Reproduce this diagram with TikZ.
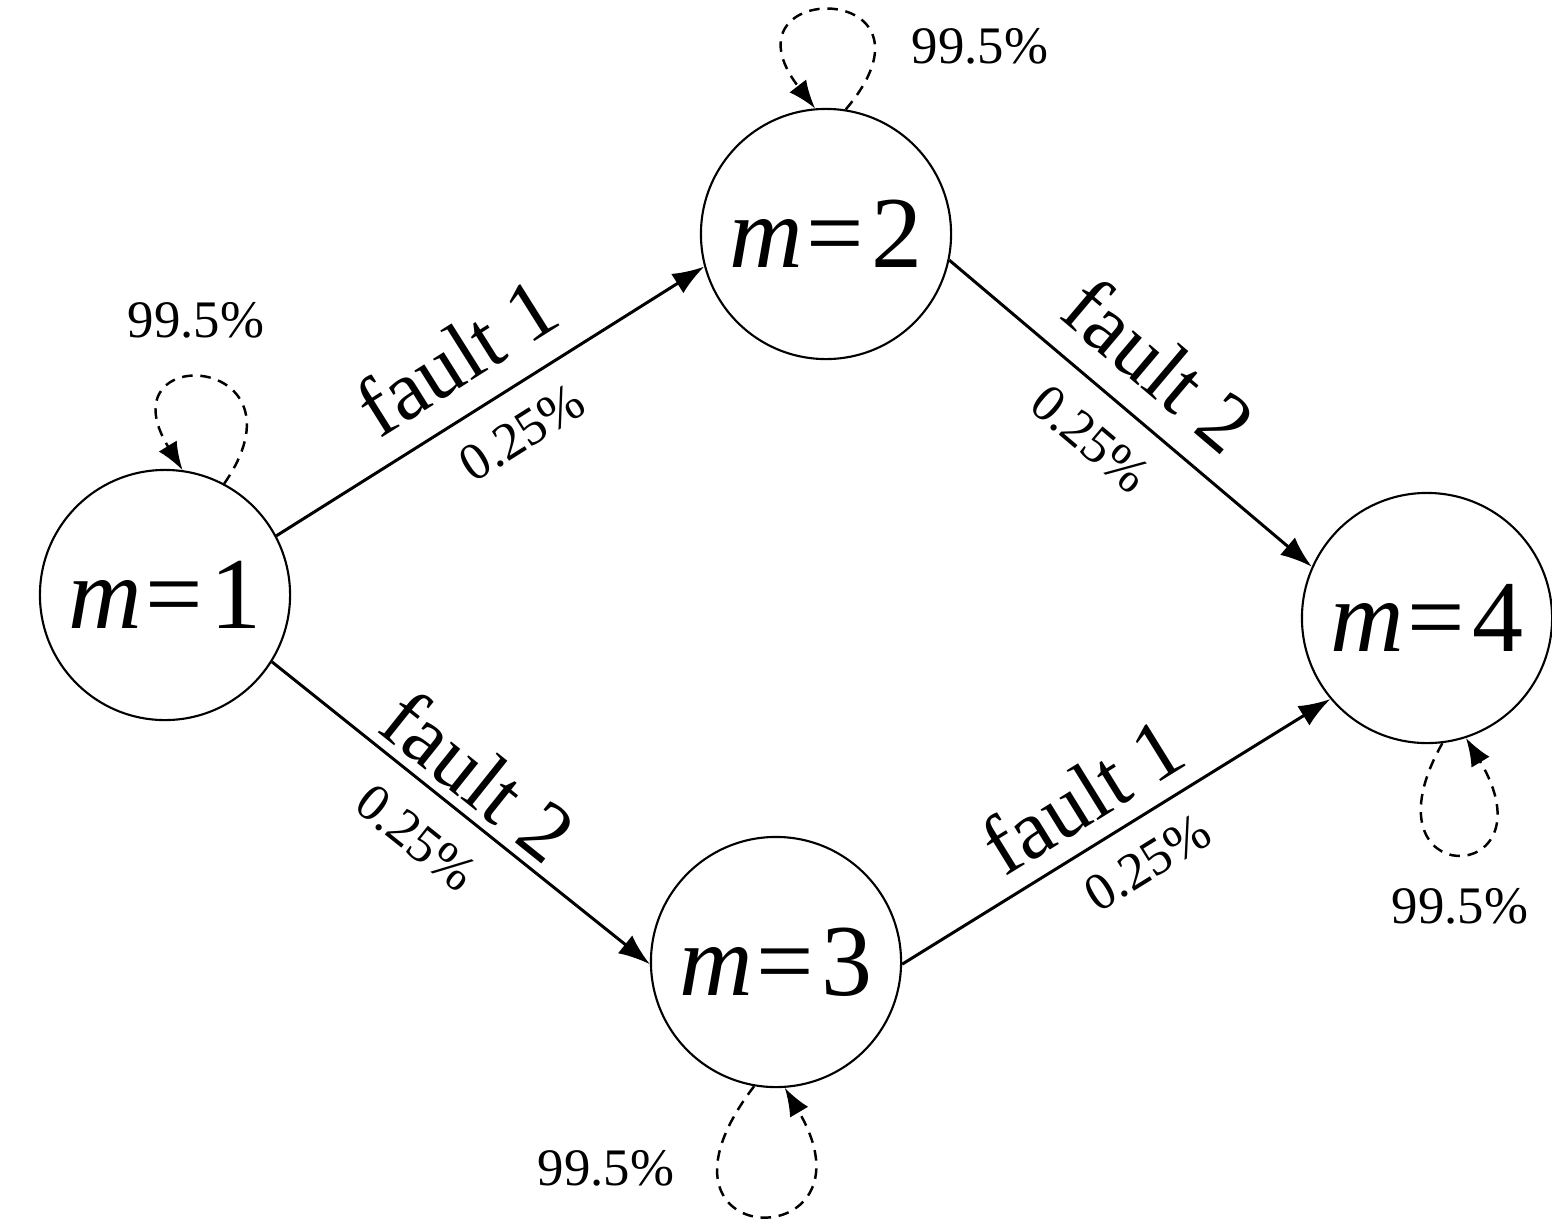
\documentclass[tikz,border=0pt]{standalone}
\usepackage{fontspec}
\setmainfont{Liberation Serif}
\usetikzlibrary{arrows.meta}
\begin{document}
\begin{tikzpicture}[x=0.01cm,y=-0.01cm,
  state/.style={circle,draw,line width=0.6pt,minimum size=2.5cm,inner sep=0pt,font=\fontsize{29}{31}\selectfont},
  trans/.style={line width=0.85pt,-{Latex[length=9pt,width=6.5pt]}},
  selfloop/.style={dash pattern=on 3pt off 2.2pt,line width=0.7pt,-{Latex[length=8pt,width=6pt]}},
  flab/.style={font=\fontsize{24}{26}\selectfont,sloped,inner sep=3pt},
  plab/.style={font=\fontsize{15}{17}\selectfont,sloped,inner sep=5pt},
  lab/.style={font=\fontsize{15}{17}\selectfont}]
\useasboundingbox (0,0) rectangle (1552,1230);
\node[state] (m1) at (165,595) {\textit{m}\kern1pt=\kern2pt1};
\node[state] (m2) at (826,234) {\textit{m}\kern1pt=\kern2pt2};
\node[state] (m3) at (776,962) {\textit{m}\kern1pt=\kern2pt3};
\node[state] (m4) at (1427,618) {\textit{m}\kern1pt=\kern2pt4};

\draw[trans] (m1.28) -- node[flab,above,pos=0.49,inner sep=7pt]{fault 1} node[plab,below,pos=0.52,inner sep=7pt]{0.25\%} (m2.195);
\draw[trans] (m2.348) -- node[flab,above,pos=0.48,inner sep=6.8pt]{fault 2} node[plab,below,pos=0.47,inner sep=7.5pt]{0.25\%} (m4.156);
\draw[trans] (m1.328) -- node[flab,above,pos=0.48,inner sep=2.5pt]{fault 2} node[plab,below,pos=0.46,inner sep=8pt]{0.25\%} (m3.181);
\draw[trans] (m3.359) -- node[flab,above,pos=0.48,inner sep=4.8pt]{fault 1} node[plab,below,pos=0.52,inner sep=6.7pt]{0.25\%} (m4.220);

\draw[selfloop] (m2.81) .. controls +(110,-130) and +(-100,-130) .. (m2.95);
\draw[selfloop] (m1.62) .. controls +(90,-130) and +(-80,-130) .. (m1.82);
\draw[selfloop] (m4.277) .. controls +(-85,150) and +(90,150) .. (m4.288);
\draw[selfloop] (m3.260) .. controls +(-130,170) and +(100,170) .. (m3.274);

\node[lab] (l2) at (980,46) {99.5\%};
\node[lab] (l1) at (196,320) {99.5\%};
\node[lab] (l4) at (1460,906) {99.5\%};
\node[lab] (l3) at (606,1168) {99.5\%};
\end{tikzpicture}
\end{document}
